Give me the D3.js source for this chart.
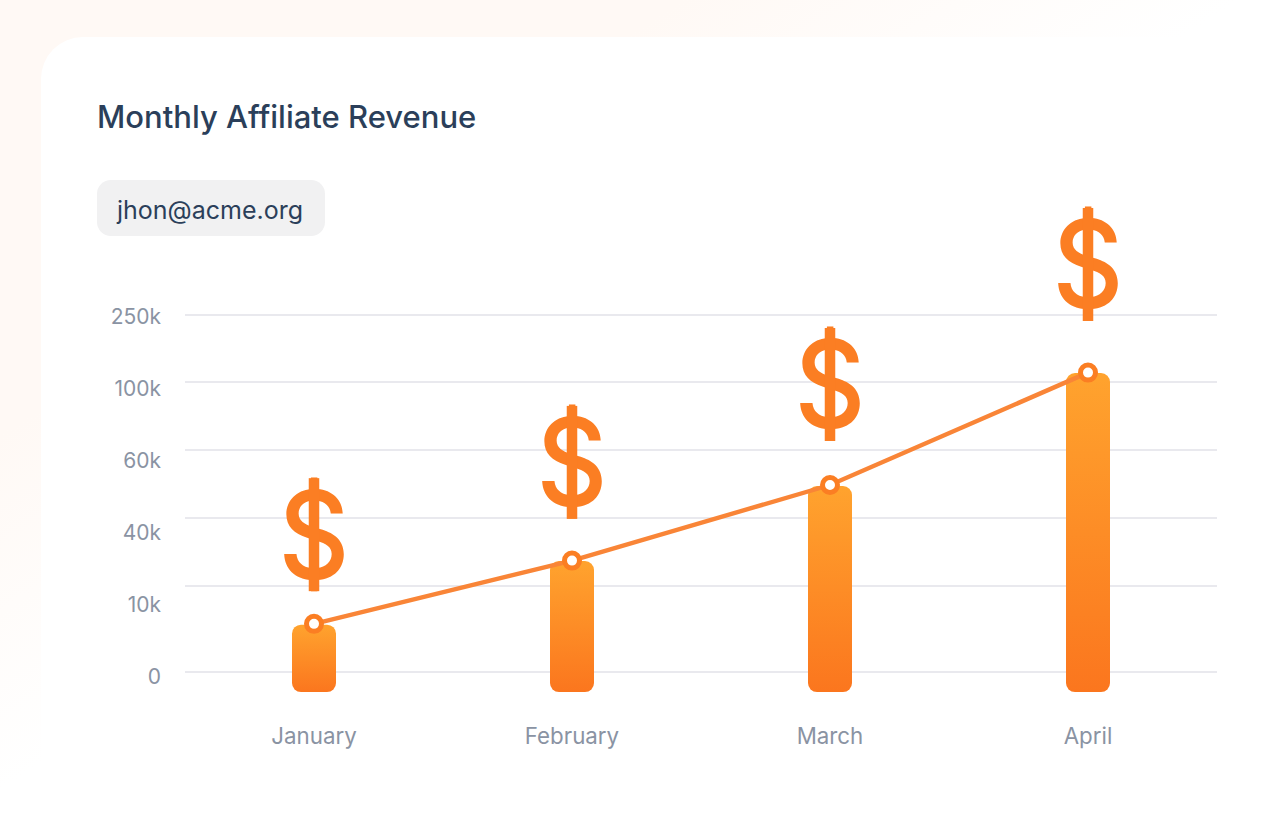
<!DOCTYPE html>
<html><head><meta charset="utf-8">
<script src="https://cdn.jsdelivr.net/npm/d3@7/dist/d3.min.js"></script>
<style>html,body{margin:0;padding:0;background:#fff}svg{display:block}text{font-family:Inter,"Noto Sans",sans-serif}</style>
</head><body><svg id="c" width="1273" height="816"></svg>
<script>
const months = ["January","February","March","April"];
const barValues = [5.5, 21, 49.4, 120];
const lineValues = [5.6, 21.2, 49.7, 121];
const dollarValues = [9.4, 39.6, 65.3, 236.6];
const gridValues = [0, 10, 40, 60, 100, 250];
const tickLabels = ["0","10k","40k","60k","100k","250k"];
const barFloor = -2.33;

const svg = d3.select("#c");
const defs = svg.append("defs");
const bg = defs.append("linearGradient").attr("id","bg").attr("gradientUnits","userSpaceOnUse")
  .attr("x1",0).attr("y1",0).attr("x2",358).attr("y2",562);
bg.append("stop").attr("offset",0).attr("stop-color","#fff9f5");
bg.append("stop").attr("offset",0.55).attr("stop-color","#fff9f5");
bg.append("stop").attr("offset",1).attr("stop-color","#ffffff");
const bar = defs.append("linearGradient").attr("id","bar").attr("x1",0).attr("y1",0).attr("x2",0).attr("y2",1);
bar.append("stop").attr("offset",0).attr("stop-color","#ffa32e");
bar.append("stop").attr("offset",1).attr("stop-color","#fb761e");

svg.append("rect").attr("width",1273).attr("height",816).attr("fill","url(#bg)");
svg.append("rect").attr("x",41).attr("y",37).attr("width",1300).attr("height",900).attr("rx",42).attr("fill","#fff");

const x = d3.scalePoint().domain(months).range([314,1088]);
const y = d3.scaleLinear().domain(gridValues).range([672,586,518,450,382,315]);
const labelY = d3.scalePoint().domain(tickLabels).range([676,316]);

svg.append("text").attr("x",97).attr("y",128).attr("font-size",31).attr("font-weight",500).attr("fill","#2b3f5a").text("Monthly Affiliate Revenue");
svg.append("rect").attr("x",97).attr("y",180).attr("width",228).attr("height",56).attr("rx",14).attr("fill","#f1f1f2");
svg.append("text").attr("x",117).attr("y",219).attr("font-size",25).attr("fill","#2b3f5a").text("jhon@acme.org");

svg.append("g").selectAll("line").data(gridValues).join("line")
  .attr("x1",185).attr("x2",1217).attr("y1",d=>y(d)).attr("y2",d=>y(d))
  .attr("stroke","#e9e9ee").attr("stroke-width",2);

svg.append("g").selectAll("text").data(tickLabels).join("text")
  .attr("x",161).attr("y",d=>labelY(d)+8).attr("text-anchor","end")
  .attr("font-size",21).attr("fill","#8a93a3").text(d=>d);

svg.append("g").selectAll("rect").data(months).join("rect")
  .attr("x",d=>x(d)-22).attr("width",44)
  .attr("y",(d,i)=>y(barValues[i])).attr("height",(d,i)=>y(barFloor)-y(barValues[i]))
  .attr("rx",9).attr("fill","url(#bar)");

svg.append("g").selectAll("text").data(months).join("text")
  .attr("x",d=>x(d)).attr("y",744).attr("text-anchor","middle")
  .attr("font-size",22.3).attr("fill","#8a93a3").text(d=>d);

svg.append("g").selectAll("text").data(months).join("text")
  .attr("transform",(d,i)=>`translate(${x(d)},${y(dollarValues[i])-12.5}) scale(0.9,1)`)
  .attr("text-anchor","middle")
  .style("font-family","Inter").style("font-weight",500).style("font-size","122px")
  .attr("fill","#fb7e23").text("$");
svg.append("g").selectAll("rect").data(months).join("rect")
  .attr("x",d=>x(d)-5.25).attr("width",10.5)
  .attr("y",(d,i)=>y(dollarValues[i])-113).attr("height",113)
  .attr("fill","#fb7e23");

const line = d3.line().x((d,i)=>x(months[i])).y(d=>y(d));
svg.append("path").attr("d",line(lineValues)).attr("fill","none").attr("stroke","#f98537").attr("stroke-width",4.4);
svg.append("g").selectAll("circle").data(lineValues).join("circle")
  .attr("cx",(d,i)=>x(months[i])).attr("cy",d=>y(d)).attr("r",7.5)
  .attr("fill","#fff").attr("stroke","#fb7e23").attr("stroke-width",5);
</script></body></html>
